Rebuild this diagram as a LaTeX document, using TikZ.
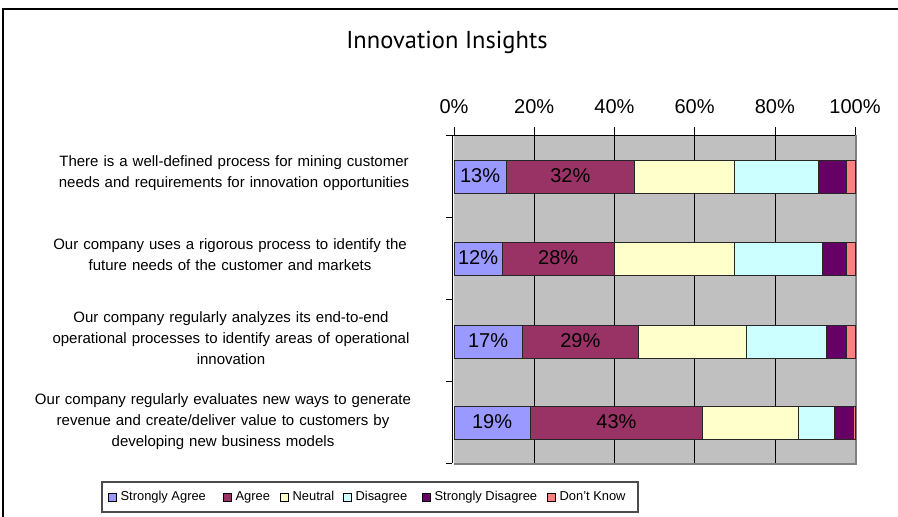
\documentclass[tikz,border=0pt]{standalone}
\usepackage{fontspec}
\setmainfont{Liberation Sans}
\newfontfamily\titlefont{PT Sans}
\usetikzlibrary{positioning}

\definecolor{sagree}{HTML}{9999FF}
\definecolor{agree}{HTML}{993366}
\definecolor{neutral}{HTML}{FFFFCC}
\definecolor{disagree}{HTML}{CCFFFF}
\definecolor{sdisagree}{HTML}{660066}
\definecolor{dknow}{HTML}{FF8080}
\definecolor{plotgray}{HTML}{C0C0C0}

\begin{document}
\begin{tikzpicture}[x=1pt, y=-1pt, node distance=4pt,
    seg/.style={draw=black!85, line width=1pt},
    pct/.style={font=\fontsize{20}{22}\selectfont, inner sep=0pt},
    question/.style={align=center, font=\fontsize{15}{21}\selectfont, text width=420pt, inner sep=0pt},
    legsq/.style={draw=black, line width=0.8pt, minimum size=8pt, inner sep=0pt},
    legtext/.style={font=\fontsize{12.9}{14}\selectfont, inner sep=0pt, text height=9.3pt, text depth=2.7pt}]

    \useasboundingbox (0,0) rectangle (898,517);
    \draw[line width=2pt] (3,517) -- (3,9) -- (898,9);

    \node (title) at (447,42) {\titlefont\fontsize{24.5}{26}\selectfont Innovation Insights};

    % plot area and grid
    \fill[plotgray] (454,135) rectangle (855,463);
    \draw[black!50, line width=2pt] (856,135) -- (856,464) -- (454,464);
    \foreach \p in {20,40,60,80}
        \draw (454+4.01*\p,135) -- (454+4.01*\p,463);
    \foreach \p in {0,20,...,100} {
        \draw (454+4.01*\p,127) -- (454+4.01*\p,135);
        \node[pct, anchor=base] (tick\p) at (454+4.01*\p,113) {\p\%};
    }
    \draw (452,135) -- (855,135);
    \draw (452,135) -- (452,463);
    \foreach \yt in {135,217,299,381,463}
        \draw (446,\yt) -- (452,\yt);

    % bars: row / centre / cumulative ends / labels
    \foreach \row/\yc/\a/\b/\c/\d/\e/\la/\lb in {
        1/177/13/45/70/91/98/13/32,
        2/259/12/40/70/92/98/12/28,
        3/342/17/46/73/93/98/17/29,
        4/423/19/62/86/95/99.5/19/43} {
        \draw[seg, fill=sagree] (454,\yc-16.5) rectangle (454+4.01*\a,\yc+16.5);
        \draw[seg, fill=agree] (454+4.01*\a,\yc-16.5) rectangle (454+4.01*\b,\yc+16.5);
        \draw[seg, fill=neutral] (454+4.01*\b,\yc-16.5) rectangle (454+4.01*\c,\yc+16.5);
        \draw[seg, fill=disagree] (454+4.01*\c,\yc-16.5) rectangle (454+4.01*\d,\yc+16.5);
        \draw[seg, fill=sdisagree] (454+4.01*\d,\yc-16.5) rectangle (454+4.01*\e,\yc+16.5);
        \draw[seg, fill=dknow] (454+4.01*\e,\yc-16.5) rectangle (855,\yc+16.5);
        \node[pct] (sa\row) at (454+2.005*\a,\yc-1) {\la\%};
        \node[pct] (ag\row) at (454+2.005*\a+2.005*\b,\yc-1) {\lb\%};
    }

    % questions
    \node[question] (q1) at (234,173) {There is a well-defined process for mining customer\\needs and requirements for innovation opportunities};
    \node[question] (q2) at (230,255) {Our company uses a rigorous process to identify the\\future needs of the customer and markets};
    \node[question] (q3) at (231,338) {Our company regularly analyzes its end-to-end\\operational processes to identify areas of operational\\innovation};
    \node[question] (q4) at (223,422) {Our company regularly evaluates new ways to generate\\revenue and create/deliver value to customers by\\developing new business models};

    % legend
    \draw[black!70, line width=1.5pt] (102,482) rectangle (638,512);
    \node[legsq, fill=sagree] (l1) at (112,497) {};
    \node[legtext, right=of l1] (t1) {Strongly Agree};
    \node[legsq, fill=agree] (l2) at (227,497) {};
    \node[legtext, right=of l2] (t2) {Agree};
    \node[legsq, fill=neutral] (l3) at (284,497) {};
    \node[legtext, right=of l3] (t3) {Neutral};
    \node[legsq, fill=disagree] (l4) at (347,497) {};
    \node[legtext, right=of l4] (t4) {Disagree};
    \node[legsq, fill=sdisagree] (l5) at (426,497) {};
    \node[legtext, right=of l5] (t5) {Strongly Disagree};
    \node[legsq, fill=dknow] (l6) at (551,497) {};
    \node[legtext, right=of l6] (t6) {Don't Know};
\end{tikzpicture}
\end{document}
